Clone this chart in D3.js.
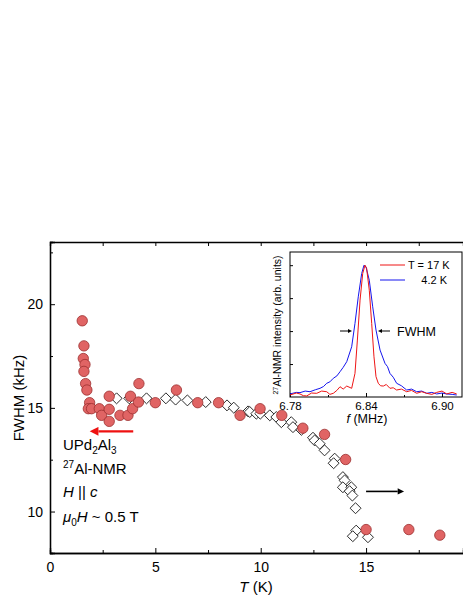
<!DOCTYPE html>
<html><head><meta charset="utf-8">
<script src="https://cdn.jsdelivr.net/npm/d3@7"></script>
<style>body{margin:0;background:#fff}text{font-family:"Liberation Sans",Arial,sans-serif}</style>
</head><body><svg id="c" width="463" height="599"></svg>
<script>
"use strict";
// FWHM vs T, circles (left axis)
var circT = [1.53,1.61,1.58,1.66,1.61,1.69,1.75,1.88,1.82,1.97,2.34,2.45,2.81,2.81,2.81,3.32,3.70,3.82,3.92,4.20,4.22,5.0,6.0,7.01,8.0,9.02,9.97,11.0,12.0,13.03,14.03,15.0,17.03,18.5];
var circF = [19.2,17.99,17.38,17.09,16.76,16.17,15.86,15.25,14.96,14.96,14.96,14.64,15.56,14.93,14.35,14.64,14.64,15.56,14.96,15.28,16.17,15.25,15.86,15.25,15.25,14.64,14.96,14.64,14.02,13.72,12.51,9.13,9.13,8.86];
// diamonds (right-axis quantity)
var diaT = [3.16,3.76,4.58,5.5,5.96,6.52,7.39,8.40,8.72,9.40,9.48,9.79,9.98,10.43,10.74,10.98,11.45,11.53,11.93,12.48,12.56,12.80,13.03,13.51,13.46,13.90,13.98,13.90,14.30,14.22,14.35,14.50,14.53,14.37,15.09];
var diaF = [15.46,15.46,15.46,15.46,15.40,15.36,15.28,15.12,15.01,14.83,14.80,14.72,14.72,14.64,14.56,14.31,14.31,14.07,13.94,13.56,13.43,13.27,12.95,12.55,12.33,11.66,11.50,11.17,11.17,10.98,10.77,10.16,9.08,8.81,8.76];
var xTicks = [0,5,10,15];
var yTicks = [10,15,20];
// inset spectra
var redF = [6.780,6.7850,6.7879,6.7905,6.7932,6.7970,6.8011,6.8050,6.8090,6.8115,6.8142,6.8170,6.8195,6.8220,6.8248,6.8287,6.8313,6.8332,6.8353,6.8374,6.8392,6.8405,6.8426,6.8445,6.8463,6.8479,6.8497,6.8515,6.8537,6.8560,6.8589,6.8615,6.8642,6.8680,6.8721,6.8760,6.8800,6.8840,6.8879,6.8920,6.8958,6.9000,6.9037,6.9080,6.9116];
var redI = [0.015,0.030,0.023,0.010,0.008,0.030,0.028,0.045,0.040,0.020,0.028,0.050,0.078,0.060,0.083,0.066,0.179,0.432,0.735,0.937,1.0,0.975,0.81,0.558,0.305,0.154,0.104,0.085,0.083,0.095,0.066,0.070,0.053,0.060,0.040,0.050,0.028,0.040,0.028,0.020,0.035,0.045,0.023,0.035,0.023];
var blueF = [6.780,6.7850,6.7879,6.7920,6.7958,6.8000,6.8037,6.8065,6.8090,6.8115,6.8142,6.8170,6.8195,6.8220,6.8248,6.8287,6.8313,6.8339,6.8366,6.8384,6.8400,6.8426,6.8453,6.8479,6.8511,6.8550,6.8570,6.8589,6.8615,6.8642,6.8680,6.8721,6.8760,6.8800,6.8840,6.8879,6.8920,6.8958,6.9000,6.9037,6.9080,6.9116];
var blueI = [0.023,0.035,0.033,0.045,0.040,0.055,0.066,0.080,0.104,0.115,0.142,0.160,0.192,0.225,0.268,0.381,0.558,0.760,0.937,1.0,0.987,0.886,0.684,0.508,0.356,0.255,0.230,0.179,0.150,0.104,0.085,0.053,0.060,0.040,0.045,0.028,0.035,0.023,0.030,0.023,0.020,0.015];
var insetTicks = [6.78,6.84,6.90];

var svg = d3.select("#c");
var x = d3.scaleLinear().domain([0,19.6]).range([50,463]);
var y = d3.scaleLinear().domain([8,23]).range([553,242]);

svg.append("g").attr("transform","translate(0,553)")
  .call(d3.axisBottom(x).tickValues(xTicks).tickSize(-5).tickPadding(9).tickFormat(d3.format("d")));
svg.append("g").attr("transform","translate(0,553)")
  .call(d3.axisBottom(x).tickValues([2.5,7.5,12.5,17.5]).tickSize(-3).tickFormat(""));
svg.append("g").attr("transform","translate(0,242)")
  .call(d3.axisTop(x).tickValues([2.5,5,7.5,10,12.5,15,17.5]).tickSize(-4).tickFormat(""));
svg.append("g").attr("transform","translate(50,0)")
  .call(d3.axisLeft(y).tickValues(yTicks).tickSize(-5).tickPadding(7));
svg.append("g").attr("transform","translate(50,0)")
  .call(d3.axisLeft(y).tickValues([12.5,17.5,22.5]).tickSize(-3).tickFormat(""));
svg.selectAll(".domain").attr("stroke","#000").attr("stroke-width",1.3);
svg.selectAll(".tick line").attr("stroke","#000");
svg.selectAll(".tick text").attr("font-size",14).attr("fill","#000").attr("font-family","Liberation Sans, Arial");
svg.append("text").attr("transform","translate(24,398) rotate(-90)").attr("text-anchor","middle").attr("font-size",15).text("FWHM (kHz)");
var tl = svg.append("text").attr("x",256).attr("y",592).attr("text-anchor","middle").attr("font-size",15);
tl.append("tspan").attr("font-style","italic").text("T");tl.append("tspan").text(" (K)");

// markers
svg.selectAll(".dia").data(diaT).enter().append("path")
  .attr("d",d3.symbol(d3.symbolSquare,60))
  .attr("transform",function(d,i){return "translate("+x(d)+","+y(diaF[i])+") rotate(45)";})
  .attr("fill","#fff").attr("stroke","#222").attr("stroke-width",0.9);
svg.selectAll(".cir").data(circT).enter().append("circle")
  .attr("cx",function(d){return x(d);}).attr("cy",function(d,i){return y(circF[i]);}).attr("r",5.2)
  .attr("fill","#e06464").attr("stroke","#9c2e2e").attr("stroke-width",0.8);

// arrows
var defs = svg.append("defs");
function mk(id,c){defs.append("marker").attr("id",id).attr("viewBox","0 0 10 10").attr("refX",0).attr("refY",5)
  .attr("markerWidth",5).attr("markerHeight",4).attr("orient","auto").attr("markerUnits","strokeWidth")
  .append("path").attr("d","M0 0 L10 5 L0 10 z").attr("fill",c);}
mk("ar","#ee1111");mk("ab","#000");
svg.append("line").attr("x1",x(3.95)).attr("x2",x(2.3)).attr("y1",y(13.87)).attr("y2",y(13.87))
  .attr("stroke","#ee1111").attr("stroke-width",2.2).attr("marker-end","url(#ar)");
svg.append("line").attr("x1",x(15.0)).attr("x2",x(16.5)).attr("y1",y(10.97)).attr("y2",y(10.97))
  .attr("stroke","#000").attr("stroke-width",1.6).attr("marker-end","url(#ab)");

// labels
var lab = svg.append("g").attr("font-size",15);
var t1 = lab.append("text").attr("x",63).attr("y",450);
t1.append("tspan").text("UPd");t1.append("tspan").attr("font-size",10).attr("dy",4).text("2");
t1.append("tspan").attr("dy",-4).text("Al");t1.append("tspan").attr("font-size",10).attr("dy",4).text("3");
var t2 = lab.append("text").attr("x",63).attr("y",474);
t2.append("tspan").attr("font-size",10).attr("dy",-6).text("27");t2.append("tspan").attr("dy",6).text("Al-NMR");
var t3 = lab.append("text").attr("x",63).attr("y",497);
t3.append("tspan").attr("font-style","italic").text("H");t3.append("tspan").text(" || ");t3.append("tspan").attr("font-style","italic").text("c");
var t4 = lab.append("text").attr("x",63).attr("y",522);
t4.append("tspan").attr("font-style","italic").text("μ");t4.append("tspan").attr("font-size",10).attr("dy",4).text("0");
t4.append("tspan").attr("dy",-4).attr("font-style","italic").text("H");t4.append("tspan").text(" ~ 0.5 T");

// inset
var ix = d3.scaleLinear().domain([6.78,6.78+0.06*172/76]).range([290,462]);
var iy = d3.scaleLinear().domain([0,1.1]).range([397,252]);
var ins = svg.append("g");
ins.append("rect").attr("x",290).attr("y",252).attr("width",172).attr("height",145).attr("fill","#fff").attr("stroke","#000").attr("stroke-width",1);
ins.append("g").attr("transform","translate(0,397)")
  .call(d3.axisBottom(ix).tickValues(insetTicks).tickSize(-4).tickPadding(5).tickFormat(d3.format(".2f")));
ins.append("g").attr("transform","translate(0,397)")
  .call(d3.axisBottom(ix).tickValues([6.81,6.87]).tickSize(-2).tickFormat(""));
ins.append("g").attr("transform","translate(290,0)")
  .call(d3.axisLeft(iy).tickValues([0.25,0.5,0.75,1.0]).tickSize(-3).tickFormat(""));
ins.selectAll(".domain").remove();
ins.selectAll(".tick line").attr("stroke","#000");
ins.selectAll(".tick text").attr("font-size",11.5).attr("fill","#000").attr("font-family","Liberation Sans, Arial");
var ln = d3.line().x(function(d){return ix(d[0]);}).y(function(d){return iy(d[1]);});
ins.append("path").datum(blueF.map(function(f,i){return [f,blueI[i]];})).attr("d",ln).attr("fill","none").attr("stroke","#1515ee").attr("stroke-width",1);
ins.append("path").datum(redF.map(function(f,i){return [f,redI[i]];})).attr("d",ln).attr("fill","none").attr("stroke","#ee1515").attr("stroke-width",1);
ins.append("line").attr("x1",380).attr("x2",405).attr("y1",265).attr("y2",265).attr("stroke","#ee1515");
ins.append("line").attr("x1",380).attr("x2",405).attr("y1",280).attr("y2",280).attr("stroke","#1515ee");
ins.append("text").attr("x",408).attr("y",269).attr("font-size",11).text("T = 17 K");
ins.append("text").attr("x",447).attr("y",284).attr("font-size",11).attr("text-anchor","end").text("4.2 K");
ins.append("text").attr("x",397).attr("y",336).attr("font-size",12.5).text("FWHM");
ins.append("line").attr("x1",340).attr("x2",348).attr("y1",331).attr("y2",331).attr("stroke","#000").attr("marker-end","url(#ab)");
ins.append("line").attr("x1",390).attr("x2",382).attr("y1",331).attr("y2",331).attr("stroke","#000").attr("marker-end","url(#ab)");
var il = ins.append("text").attr("transform","translate(281,325) rotate(-90)").attr("text-anchor","middle").attr("font-size",10.5);
il.append("tspan").attr("font-size",7).attr("dy",-3).text("27");il.append("tspan").attr("dy",3).text("Al-NMR intensity (arb. units)");
var fl = ins.append("text").attr("x",367).attr("y",423).attr("text-anchor","middle").attr("font-size",12.5);
fl.append("tspan").attr("font-style","italic").text("f");fl.append("tspan").text(" (MHz)");
</script></body></html>
